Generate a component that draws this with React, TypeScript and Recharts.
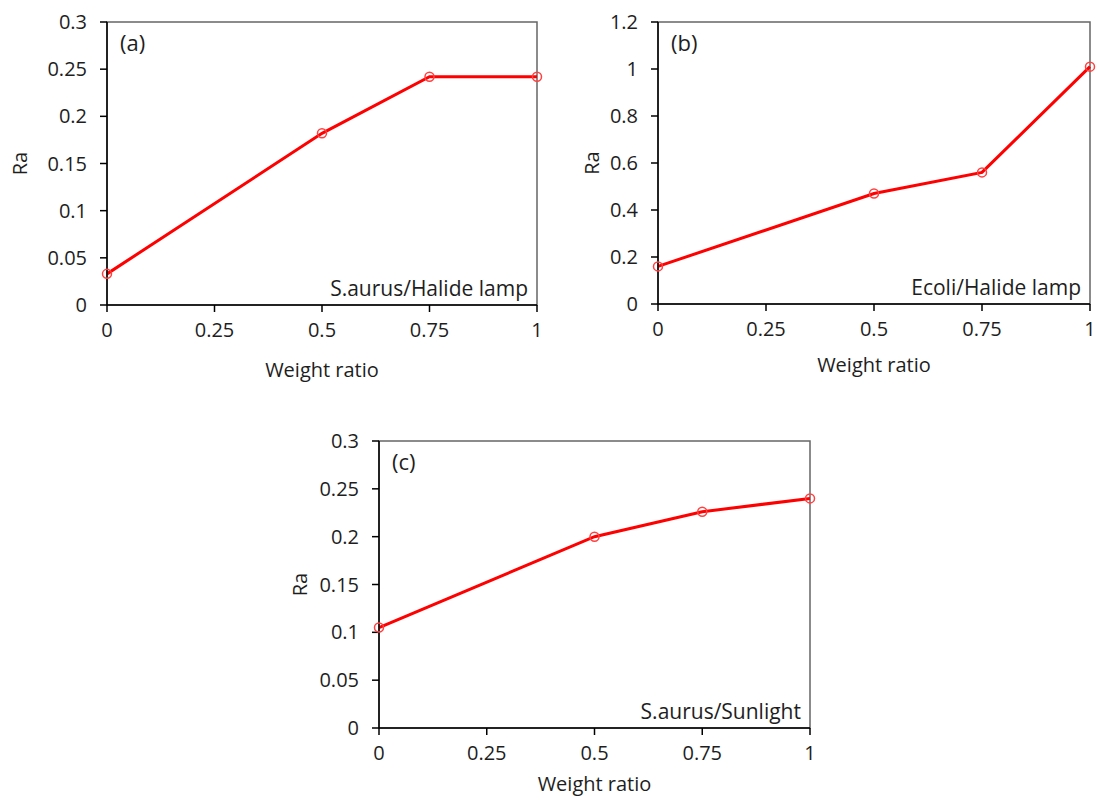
import React from 'react'
import { LineChart, Line, XAxis, YAxis, ReferenceArea, Label } from 'recharts'

const weightRatio = [0, 0.5, 0.75, 1]
const xTicks = [0, 0.25, 0.5, 0.75, 1]

const raHalideSaureus = [0.033, 0.182, 0.242, 0.242]
const raHalideEcoli = [0.16, 0.47, 0.56, 1.01]
const raSunlightSaureus = [0.105, 0.2, 0.226, 0.24]

const ticksSmall = [0, 0.05, 0.1, 0.15, 0.2, 0.25, 0.3]
const ticksLarge = [0, 0.2, 0.4, 0.6, 0.8, 1, 1.2]

const FONT = '"Open Sans", sans-serif'
const INK = '#1e1e1e'

function Panel({ values, yTicks, tag, caption, left, top, width, height, margin, yWidth, raOffset, xLabelOffset }: any) {
  const data = weightRatio.map((w, i) => ({ w, ra: values[i] }))
  const yMax = yTicks[yTicks.length - 1]
  return (
    <div style={{ position: 'absolute', left, top, fontFamily: FONT }}>
      <LineChart width={width} height={height} data={data} margin={margin}>
        <ReferenceArea x1={0} x2={1} y1={0} y2={yMax} fill="none" stroke="#666" strokeWidth={1.5}>
          <Label value={tag} position="insideTopLeft" offset={13} fill={INK} fontSize={22} fontFamily={FONT} />
          <Label value={caption} position="insideBottomRight" offset={9} fill={INK} fontSize={21} fontFamily={FONT} />
        </ReferenceArea>
        <XAxis
          dataKey="w"
          type="number"
          domain={[0, 1]}
          ticks={xTicks}
          height={30}
          tickSize={7}
          tickMargin={11}
          stroke="#000"
          strokeWidth={1.5}
          fontSize={20}
          fontFamily={FONT}
          tick={{ fill: INK, fontSize: 20, fontFamily: FONT }}
          label={{ value: 'Weight ratio', position: 'bottom', offset: xLabelOffset, fill: INK, fontSize: 20, fontFamily: FONT }}
        />
        <YAxis
          type="number"
          domain={[0, yMax]}
          ticks={yTicks}
          width={yWidth}
          tickSize={7}
          tickMargin={13}
          stroke="#000"
          strokeWidth={1.5}
          fontSize={20}
          fontFamily={FONT}
          tick={{ fill: INK, fontSize: 20, fontFamily: FONT }}
          label={{ value: 'Ra', angle: -90, position: 'insideLeft', offset: raOffset, fill: INK, fontSize: 20, fontFamily: FONT, style: { textAnchor: 'middle' } }}
        />
        <Line
          dataKey="ra"
          stroke="#ff0000"
          strokeWidth={3}
          dot={{ r: 4.5, stroke: '#ff4040', strokeWidth: 1.5, fill: 'none' }}
          activeDot={false}
          isAnimationActive={false}
        />
      </LineChart>
    </div>
  )
}

export default function App() {
  return (
    <div style={{ position: 'absolute', left: 0, top: 0, width: 1097, height: 803, background: '#fff' }}>
      <Panel
        values={raHalideSaureus}
        yTicks={ticksSmall}
        tag="(a)"
        caption="S.aurus/Halide lamp"
        left={0}
        top={0}
        width={560}
        height={400}
        margin={{ top: 22, right: 23, bottom: 65, left: 0 }}
        yWidth={107}
        raOffset={20}
        xLabelOffset={28}
      />
      <Panel
        values={raHalideEcoli}
        yTicks={ticksLarge}
        tag="(b)"
        caption="Ecoli/Halide lamp"
        left={560}
        top={0}
        width={537}
        height={400}
        margin={{ top: 22, right: 7, bottom: 66, left: 0 }}
        yWidth={98}
        raOffset={32}
        xLabelOffset={24}
      />
      <Panel
        values={raSunlightSaureus}
        yTicks={ticksSmall}
        tag="(c)"
        caption="S.aurus/Sunlight"
        left={280}
        top={420}
        width={560}
        height={383}
        margin={{ top: 21, right: 30, bottom: 45, left: 0 }}
        yWidth={99}
        raOffset={20}
        xLabelOffset={19}
      />
    </div>
  )
}
